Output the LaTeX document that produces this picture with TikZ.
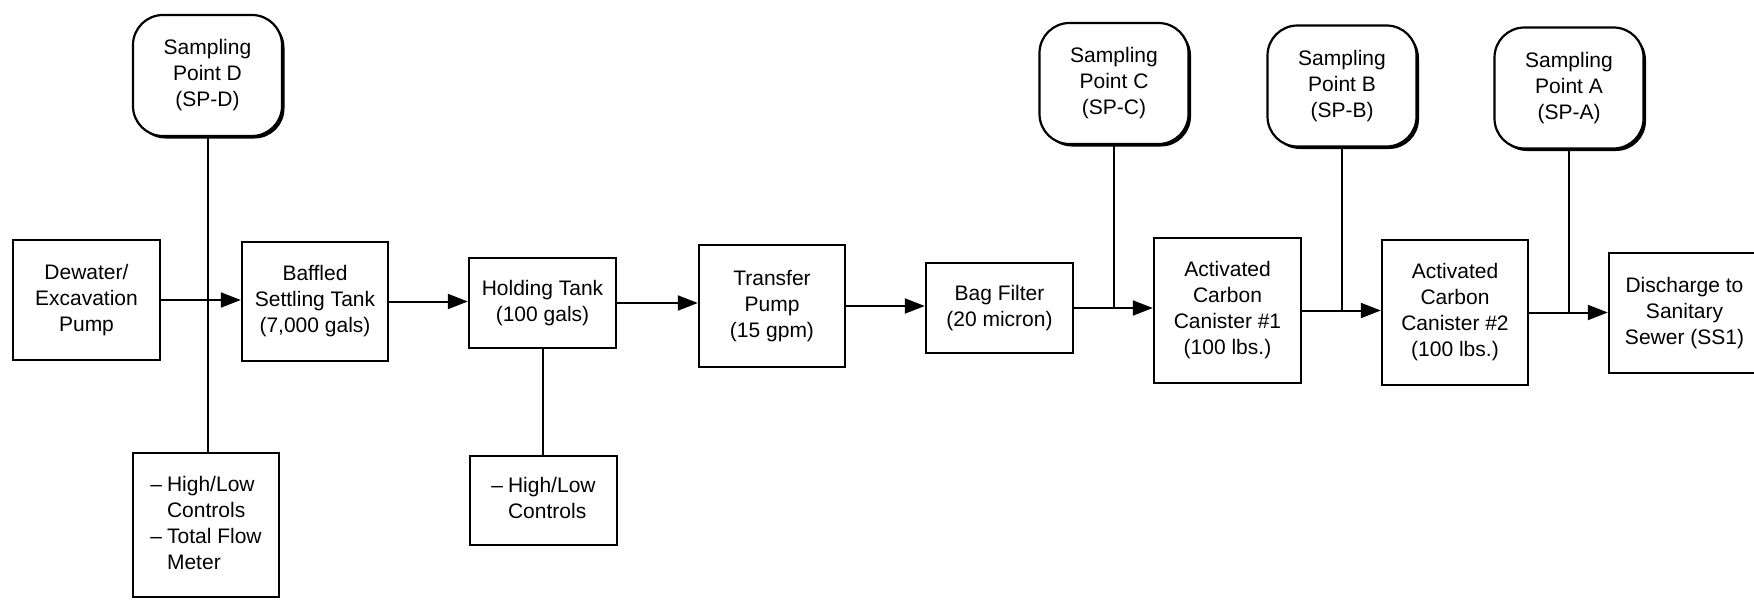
\documentclass[tikz,border=0pt]{standalone}
\usepackage{fontspec}
\setmainfont{Liberation Sans}
\usetikzlibrary{arrows.meta,shadows}
\begin{document}
\begin{tikzpicture}[x=1pt,y=-1pt,
  every node/.style={font=\fontsize{21}{26}\selectfont, inner sep=0pt, align=center},
  box/.style={draw, line width=2.4pt, fill=white},
  spbox/.style={draw, line width=2.2pt, fill=white, rounded corners=30pt,
    minimum width=149pt, minimum height=121pt,
    drop shadow={shadow xshift=2.5pt, shadow yshift=-2.5pt, fill=black, opacity=1}},
  flow/.style={line width=2pt, -{Triangle[length=20pt,width=15pt]}},
  tap/.style={line width=2pt}]
\useasboundingbox (0,0) rectangle (1754,613);
% sampling points
\node[spbox] (spd) at (207.5,75.5) {Sampling\\Point D\\(SP-D)};
\node[spbox] (spc) at (1114,83.5) {Sampling\\Point C\\(SP-C)};
\node[spbox] (spb) at (1342,86) {Sampling\\Point B\\(SP-B)};
\node[spbox] (spa) at (1569,88) {Sampling\\Point A\\(SP-A)};
% process boxes
\node[box, minimum width=147pt, minimum height=120pt] (dew) at (86.5,300) {Dewater/\\Excavation\\Pump};
\node[box, minimum width=146pt, minimum height=119pt] (baf) at (315,301.5) {Baffled\\Settling Tank\\(7,000 gals)};
\node[box, minimum width=147pt, minimum height=90pt] (hold) at (542.5,303) {Holding Tank\\(100 gals)};
\node[box, minimum width=146pt, minimum height=122pt] (tp) at (772,306) {Transfer\\Pump\\(15 gpm)};
\node[box, minimum width=147pt, minimum height=90pt] (bag) at (999.5,308) {Bag Filter\\(20 micron)};
\node[box, minimum width=147pt, minimum height=145pt] (ac1) at (1227.5,310.5) {Activated\\Carbon\\Canister \#1\\(100 lbs.)};
\node[box, minimum width=146pt, minimum height=145pt] (ac2) at (1455,312.5) {Activated\\Carbon\\Canister \#2\\(100 lbs.)};
\node[box, minimum width=151pt, minimum height=120pt] (dis) at (1684.5,313) {Discharge to\\Sanitary\\Sewer (SS1)};
% controls
\node[box, minimum width=146pt, minimum height=144pt] (ctl1) at (206,525)
  {\begin{tabular}{@{}l@{\hspace{5pt}}l@{}}–&High/Low\\&Controls\\–&Total Flow\\&Meter\end{tabular}};
\node[box, minimum width=147pt, minimum height=89pt] (ctl2) at (543.5,500.5)
  {\begin{tabular}{@{}l@{\hspace{5pt}}l@{}}–&High/Low\\&Controls\end{tabular}};
% flow arrows
\draw[flow] (dew.east) -- (baf.west |- dew.east);
\draw[flow] (baf.east) -- (hold.west |- baf.east);
\draw[flow] (hold.east) -- (tp.west |- hold.east);
\draw[flow] (tp.east) -- (bag.west |- tp.east);
\draw[flow] (bag.east) -- (ac1.west |- bag.east);
\draw[flow] (ac1.east) -- (ac2.west |- ac1.east);
\draw[flow] (ac2.east) -- (dis.west |- ac2.east);
% taps
\draw[tap] (spd.south) -- (spd.south |- ctl1.north);
\draw[tap] (hold.south) -- (hold.south |- ctl2.north);
\draw[tap] (spc.south) -- (spc.south |- bag.east);
\draw[tap] (spb.south) -- (spb.south |- ac1.east);
\draw[tap] (spa.south) -- (spa.south |- ac2.east);
\end{tikzpicture}
\end{document}
